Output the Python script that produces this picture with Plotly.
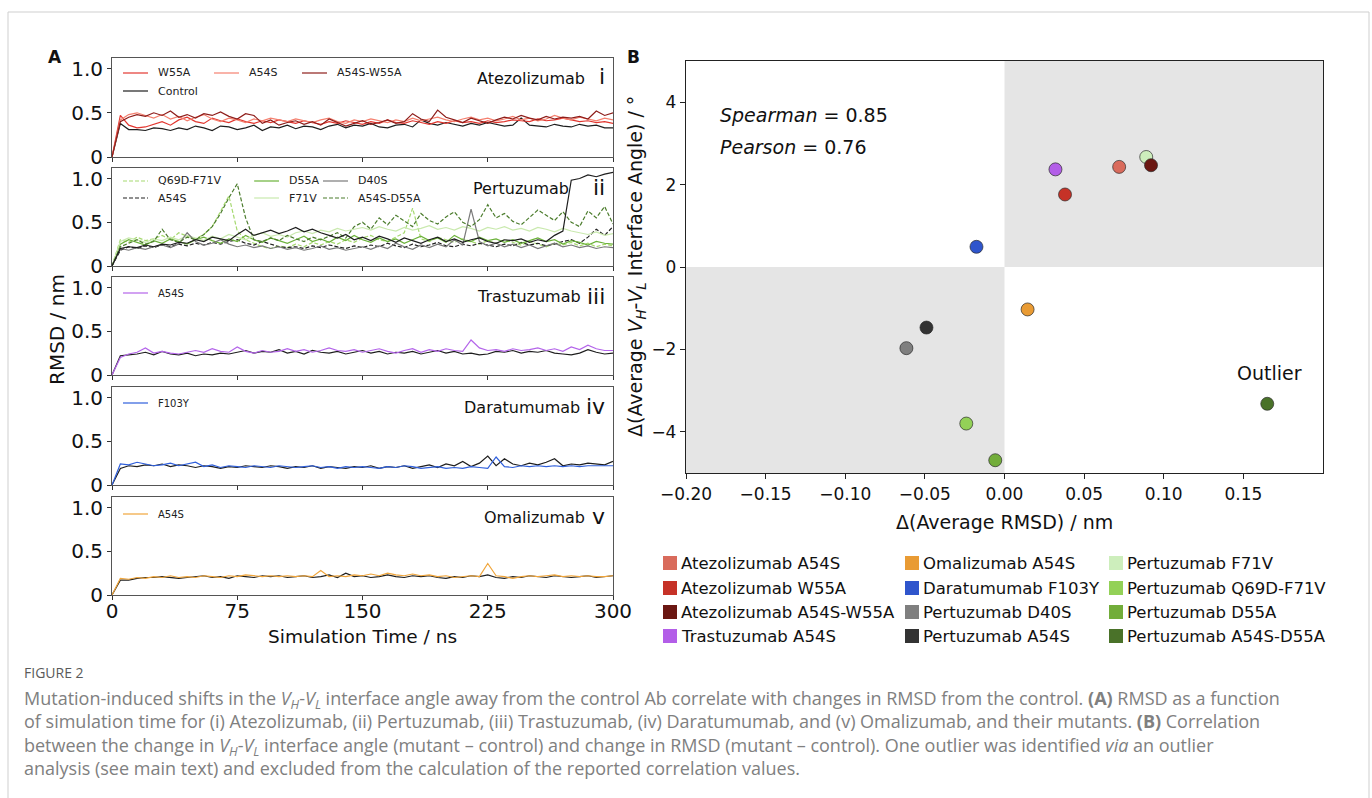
import plotly.graph_objects as go

W, H = 1372, 798


def px(x):
    return x / W


def py(y):
    return 1 - y / H


# ---------------- DATA ----------------
time_ns = list(range(0, 301, 5))

# Atezolizumab (i)
atz_control = [0, .38, .31, .31, .30, .33, .32, .30, .33, .31,
               .35, .33, .30, .35, .34, .31, .33, .36, .30, .34,
               .33, .36, .32, .35, .34, .31, .35, .37, .33, .36,
               .35, .38, .34, .33, .36, .37, .34, .42, .38, .36,
               .39, .37, .35, .38, .36, .39, .37, .35, .36, .44,
               .36, .35, .34, .37, .35, .34, .37, .35, .36, .33,
               .33]
atz_w55a = [0, .47, .36, .33, .34, .37, .40, .36, .42, .45,
            .40, .38, .44, .41, .39, .43, .40, .38, .41, .39,
            .42, .40, .38, .41, .39, .37, .40, .38, .41, .39,
            .37, .40, .38, .42, .39, .38, .41, .39, .37, .40,
            .38, .41, .39, .40, .38, .41, .39, .40, .42, .41,
            .40, .43, .41, .42, .44, .42, .40, .41, .39, .40,
            .38]
atz_a54s = [0, .42, .48, .50, .47, .44, .48, .43, .46, .41,
            .45, .48, .43, .40, .44, .42, .39, .43, .41, .44,
            .42, .40, .43, .41, .39, .42, .44, .40, .38, .42,
            .40, .43, .41, .39, .42, .40, .44, .41, .43, .45,
            .42, .40, .43, .45, .42, .44, .41, .43, .46, .42,
            .44, .41, .43, .47, .44, .42, .45, .43, .41, .44,
            .42]
atz_a54s_w55a = [0, .40, .45, .48, .46, .50, .47, .52, .45, .48,
                 .44, .49, .47, .51, .46, .43, .49, .47, .38, .42,
                 .36, .39, .41, .37, .40, .36, .43, .39, .35, .38,
                 .41, .37, .39, .42, .38, .40, .49, .43, .40, .53,
                 .45, .42, .39, .44, .41, .38, .42, .45, .43, .47,
                 .44, .42, .46, .43, .45, .44, .46, .43, .52, .47,
                 .50]

# Pertuzumab (ii)
ptz_control = [0, .20, .22, .21, .24, .22, .25, .24, .27, .26,
               .30, .28, .33, .31, .29, .36, .42, .35, .38, .41,
               .37, .40, .44, .39, .42, .38, .35, .32, .36, .30,
               .33, .29, .34, .31, .27, .32, .29, .26, .30, .33,
               .28, .31, .27, .30, .32, .28, .26, .30, .29, .31,
               .27, .30, .28, .35, .40, .98, 1.00, 1.04, 1.02, 1.05,
               1.07]
ptz_a54s = [0, .18, .22, .20, .23, .21, .24, .22, .25, .23,
            .26, .24, .27, .25, .28, .30, .26, .24, .28, .25,
            .22, .21, .22, .20, .23, .21, .24, .22, .20, .23,
            .21, .24, .22, .26, .23, .21, .25, .22, .24, .27,
            .23, .22, .25, .23, .26, .24, .22, .25, .23, .27,
            .24, .26, .23, .25, .28, .30, .26, .33, .42, .35,
            .45]
ptz_d40s = [0, .20, .18, .21, .19, .22, .24, .21, .25, .38,
            .28, .24, .26, .30, .25, .22, .24, .21, .23, .20,
            .22, .19, .21, .18, .20, .23, .19, .21, .18, .20,
            .22, .19, .23, .20, .26, .22, .19, .24, .21, .25,
            .22, .30, .24, .65, .28, .23, .26, .22, .25, .21,
            .24, .20, .23, .26, .22, .24, .21, .23, .20, .22,
            .21]
ptz_d55a = [0, .25, .30, .27, .24, .29, .26, .31, .28, .25,
            .30, .33, .29, .26, .31, .28, .35, .30, .27, .32,
            .29, .26, .30, .34, .28, .31, .27, .33, .29, .35,
            .30, .27, .32, .28, .31, .26, .30, .34, .29, .32,
            .27, .35, .30, .28, .33, .29, .31, .27, .30, .26,
            .29, .32, .28, .30, .25, .29, .27, .24, .28, .26,
            .25]
ptz_f71v = [0, .28, .32, .30, .27, .31, .29, .33, .30, .35,
            .32, .29, .34, .31, .36, .33, .30, .35, .38, .34,
            .36, .33, .38, .40, .37, .41, .39, .43, .40, .42,
            .44, .41, .45, .42, .40, .44, .41, .43, .46, .42,
            .44, .41, .45, .43, .40, .44, .42, .45, .41, .43,
            .40, .44, .42, .39, .43, .40, .38, .36, .39, .35,
            .37]
ptz_q69d_f71v = [0, .30, .27, .33, .29, .31, .35, .30, .38, .34,
                 .31, .36, .45, .62, .80, .40, .30, .26, .22, .20,
                 .23, .21, .25, .22, .27, .24, .28, .25, .30, .27,
                 .32, .35, .30, .28, .33, .38, .66, .31, .28, .33,
                 .30, .27, .31, .28, .25, .29, .26, .30, .27, .24,
                 .28, .25, .22, .26, .24, .27, .23, .26, .22, .25,
                 .23]
ptz_a54s_d55a = [0, .22, .26, .30, .25, .28, .42, .30, .27, .33,
                 .30, .36, .45, .60, .78, .94, .55, .30, .28, .32,
                 .29, .35, .31, .28, .33, .30, .34, .38, .32, .45,
                 .50, .42, .55, .47, .58, .51, .45, .60, .52, .48,
                 .56, .62, .50, .45, .53, .70, .55, .60, .51, .47,
                 .55, .64, .58, .52, .62, .50, .45, .63, .55, .68,
                 .48]

# Trastuzumab (iii)
tra_control = [0, .22, .23, .24, .26, .23, .27, .24, .23, .25,
               .22, .24, .23, .25, .24, .26, .28, .25, .27, .26,
               .29, .25, .27, .24, .28, .26, .25, .27, .24, .26,
               .28, .25, .27, .24, .26, .25, .27, .24, .26, .28,
               .25, .27, .24, .25, .23, .24, .27, .26, .28, .25,
               .27, .26, .28, .25, .24, .23, .25, .29, .26, .24,
               .25]
tra_a54s = [0, .20, .24, .26, .31, .25, .27, .25, .24, .26,
            .28, .26, .30, .27, .26, .32, .27, .25, .28, .26,
            .27, .30, .27, .29, .26, .28, .31, .28, .27, .29,
            .26, .28, .30, .27, .25, .28, .30, .26, .29, .27,
            .30, .28, .27, .40, .31, .28, .29, .27, .30, .28,
            .29, .31, .28, .30, .27, .32, .29, .34, .30, .28,
            .28]

# Daratumumab (iv)
dar_control = [0, .19, .22, .21, .23, .22, .24, .21, .23, .22,
               .20, .22, .21, .19, .21, .20, .22, .21, .20, .22,
               .21, .19, .21, .20, .22, .19, .21, .20, .19, .21,
               .20, .22, .19, .21, .20, .22, .19, .21, .23, .20,
               .24, .22, .27, .21, .25, .33, .22, .30, .24, .22,
               .25, .23, .26, .30, .22, .24, .23, .25, .24, .23,
               .27]
dar_f103y = [0, .24, .23, .26, .24, .22, .23, .25, .22, .24,
             .26, .21, .23, .20, .22, .21, .20, .22, .21, .20,
             .22, .21, .20, .21, .22, .20, .21, .19, .21, .20,
             .21, .20, .19, .21, .20, .22, .21, .19, .20, .21,
             .19, .20, .19, .21, .20, .19, .32, .21, .20, .22,
             .21, .22, .21, .22, .21, .22, .21, .22, .22, .22,
             .22]

# Omalizumab (v)
oma_control = [0, .17, .17, .19, .20, .20, .21, .20, .19, .20,
               .21, .22, .20, .21, .19, .22, .21, .20, .22, .21,
               .22, .20, .21, .22, .20, .21, .23, .20, .25, .21,
               .22, .20, .21, .23, .21, .20, .22, .21, .22, .20,
               .19, .21, .20, .22, .21, .23, .20, .19, .21, .20,
               .22, .21, .20, .22, .21, .20, .21, .22, .20, .21,
               .22]
oma_a54s = [0, .19, .18, .20, .19, .21, .20, .22, .20, .21,
            .20, .22, .21, .20, .22, .21, .23, .22, .21, .22,
            .21, .22, .21, .22, .21, .28, .21, .22, .21, .23,
            .22, .24, .22, .25, .23, .22, .24, .22, .23, .21,
            .22, .20, .21, .22, .21, .36, .22, .21, .19, .21,
            .22, .21, .22, .23, .21, .22, .21, .22, .21, .21,
            .22]

# Panel B scatter (legend / column-major order)
mutant_names = ["Atezolizumab A54S", "Atezolizumab W55A", "Atezolizumab A54S-W55A", "Trastuzumab A54S",
                "Omalizumab A54S", "Daratumumab F103Y", "Pertuzumab D40S", "Pertuzumab A54S",
                "Pertuzumab F71V", "Pertuzumab Q69D-F71V", "Pertuzumab D55A", "Pertuzumab A54S-D55A"]
delta_rmsd = [0.072, 0.038, 0.092, 0.032,
              0.0145, -0.0176, -0.0616, -0.049,
              0.089, -0.024, -0.0058, 0.165]
delta_angle = [2.43, 1.76, 2.47, 2.37,
               -1.03, 0.49, -1.97, -1.47,
               2.67, -3.80, -4.69, -3.32]
mutant_colors = ["#d96b5c", "#c63227", "#6b1712", "#b35ee8",
                 "#e99b34", "#2f55cc", "#7f7f7f", "#333333",
                 "#cdeebc", "#93d157", "#72ad3a", "#4a7229"]

x_ticks_A = [0, 75, 150, 225, 300]
y_ticks_A = [0, 0.5, 1.0]
y_ticklabels_A = ["0", "0.5", "1.0"]
x_ticks_B = [-0.20, -0.15, -0.10, -0.05, 0.00, 0.05, 0.10, 0.15]
x_ticklabels_B = ["\u22120.20", "\u22120.15", "\u22120.10", "\u22120.05", "0.00", "0.05", "0.10", "0.15"]
y_ticks_B = [-4, -2, 0, 2, 4]
y_ticklabels_B = ["\u22124", "\u22122", "0", "2", "4"]

# ---------------- STYLE / LAYOUT ----------------
FONT = "DejaVu Sans"
DASH = "4px,2px"
C_CTRL = "#1e1e1e"

panels = [
    dict(name="Atezolizumab", num="i", name_x=587, top=58, bottom=157, leg_rows=[73, 91], leg_font=11,
         series=[("Control", atz_control, C_CTRL, "solid", (123, 1)),
                 ("W55A", atz_w55a, "#e2362f", "solid", (123, 0)),
                 ("A54S", atz_a54s, "#f5806f", "solid", (214, 0)),
                 ("A54S-W55A", atz_a54s_w55a, "#8e1d1a", "solid", (302, 0))]),
    dict(name="Pertuzumab", num="ii", name_x=571, top=168, bottom=266, leg_rows=[181, 198], leg_font=11,
         series=[("Q69D-F71V", ptz_q69d_f71v, "#a6d970", DASH, (123, 0)),
                 ("A54S", ptz_a54s, "#222222", DASH, (123, 1)),
                 ("D55A", ptz_d55a, "#6cb23a", "solid", (254, 0)),
                 ("F71V", ptz_f71v, "#c9e9ae", "solid", (254, 1)),
                 ("D40S", ptz_d40s, "#7a7a7a", "solid", (323, 0)),
                 ("A54S-D55A", ptz_a54s_d55a, "#4b7c2c", DASH, (323, 1)),
                 ("Control", ptz_control, C_CTRL, "solid", None)]),
    dict(name="Trastuzumab", num="iii", name_x=583, top=277, bottom=375, leg_rows=[293], leg_font=10,
         series=[("Control", tra_control, C_CTRL, "solid", None),
                 ("A54S", tra_a54s, "#b465ea", "solid", (123, 0))]),
    dict(name="Daratumumab", num="iv", name_x=582, top=387, bottom=485, leg_rows=[403], leg_font=10,
         series=[("Control", dar_control, C_CTRL, "solid", None),
                 ("F103Y", dar_f103y, "#3060dc", "solid", (123, 0))]),
    dict(name="Omalizumab", num="v", name_x=587, top=497, bottom=595, leg_rows=[514], leg_font=10,
         series=[("Control", oma_control, C_CTRL, "solid", None),
                 ("A54S", oma_a54s, "#f0a53a", "solid", (123, 0))]),
]

fig = go.Figure()
shapes = []
annotations = []
layout_axes = {}

A_X0, A_X1 = 112, 613
for k, p in enumerate(panels, start=1):
    xa, ya = f"x{k}", f"y{k}"
    for (lab, vals, col, dash, leg) in p["series"]:
        fig.add_trace(go.Scatter(x=time_ns, y=vals, mode="lines", xaxis=xa, yaxis=ya,
                                 line=dict(color=col, width=1.2, dash=dash),
                                 showlegend=False, hoverinfo="skip"))
    # manual legend (line sample + label)
    for (lab, vals, col, dash, leg) in p["series"]:
        if leg is None:
            continue
        lx, row = leg
        row_y = p["leg_rows"][row]
        shapes.append(dict(type="line", xref="paper", yref="paper",
                           x0=px(lx), x1=px(lx + 25), y0=py(row_y), y1=py(row_y),
                           line=dict(color=col, width=1.2, dash=dash)))
        annotations.append(dict(text=lab, xref="paper", yref="paper", x=px(lx + 33), y=py(row_y),
                                xanchor="left", yanchor="middle", showarrow=False,
                                font=dict(family=FONT, size=p["leg_font"], color="#222")))
    # title inside panel
    ty = p["top"] + 20
    annotations.append(dict(text=p["name"], xref="paper", yref="paper", x=px(p["name_x"]), y=py(ty),
                            xanchor="right", yanchor="middle", showarrow=False,
                            font=dict(family=FONT, size=16, color="#111")))
    annotations.append(dict(text=p["num"], xref="paper", yref="paper", x=px(607), y=py(ty - 1),
                            xanchor="right", yanchor="middle", showarrow=False,
                            font=dict(family=FONT, size=22, color="#111")))
    sfx = "" if k == 1 else str(k)
    layout_axes["xaxis" + sfx] = dict(domain=[px(A_X0), px(A_X1)], range=[0, 300], anchor=ya,
                                      showline=True, mirror=True, linecolor="#555", linewidth=1,
                                      ticks="outside", ticklen=4, tickcolor="#333",
                                      tickvals=x_ticks_A, showticklabels=(k == 5),
                                      ticklabelstandoff=-6,
                                      tickfont=dict(family=FONT, size=20, color="#111"),
                                      showgrid=False, zeroline=False, fixedrange=True, automargin=False)
    layout_axes["yaxis" + sfx] = dict(domain=[py(p["bottom"]), py(p["top"])], range=[0, 1.12], anchor=xa,
                                      showline=True, mirror=True, linecolor="#555", linewidth=1,
                                      ticks="outside", ticklen=4, tickcolor="#333",
                                      tickvals=y_ticks_A, ticktext=y_ticklabels_A,
                                      tickfont=dict(family=FONT, size=20, color="#111"),
                                      showgrid=False, zeroline=False, fixedrange=True, automargin=False)

# ---------------- Panel B ----------------
B_X0, B_X1, B_Y0, B_Y1 = 686, 1323, 61, 473
draw_order = list(range(len(mutant_names)))[::-1]
for i in draw_order:
    fig.add_trace(go.Scatter(x=[delta_rmsd[i]], y=[delta_angle[i]], mode="markers",
                             xaxis="x6", yaxis="y6", name=mutant_names[i],
                             marker=dict(size=13, color=mutant_colors[i],
                                         line=dict(color="rgba(40,40,40,0.85)", width=0.8)),
                             showlegend=False, hoverinfo="skip"))

shapes.append(dict(type="rect", xref="x6", yref="y6", x0=0, x1=0.2, y0=0, y1=5,
                   fillcolor="#e5e5e5", line=dict(width=0), layer="below"))
shapes.append(dict(type="rect", xref="x6", yref="y6", x0=-0.2, x1=0, y0=-5, y1=0,
                   fillcolor="#e5e5e5", line=dict(width=0), layer="below"))

layout_axes["xaxis6"] = dict(domain=[px(B_X0), px(B_X1)], range=[-0.2, 0.2], anchor="y6",
                             showline=True, mirror=True, linecolor="#222", linewidth=1.3,
                             ticks="outside", ticklen=5, tickcolor="#222",
                             tickvals=x_ticks_B, ticktext=x_ticklabels_B,
                             tickfont=dict(family=FONT, size=17, color="#111"),
                             showgrid=False, zeroline=False, fixedrange=True, automargin=False)
layout_axes["yaxis6"] = dict(domain=[py(B_Y1), py(B_Y0)], range=[-5, 5], anchor="x6",
                             showline=True, mirror=True, linecolor="#222", linewidth=1.3,
                             ticks="outside", ticklen=5, tickcolor="#222",
                             tickvals=y_ticks_B, ticktext=y_ticklabels_B,
                             tickfont=dict(family=FONT, size=17, color="#111"),
                             showgrid=False, zeroline=False, fixedrange=True, automargin=False)

# Panel B legend (3 columns x 4 rows, column-major)
col_sq = [663, 905, 1109]
row_y = [563, 588, 612, 636]
for i, (nm, colr) in enumerate(zip(mutant_names, mutant_colors)):
    c, r = divmod(i, 4)
    shapes.append(dict(type="rect", xref="paper", yref="paper",
                       x0=px(col_sq[c]), x1=px(col_sq[c] + 14), y0=py(row_y[r] + 7), y1=py(row_y[r] - 7),
                       fillcolor=colr, line=dict(width=0)))
    annotations.append(dict(text=nm, xref="paper", yref="paper", x=px(col_sq[c] + 16), y=py(row_y[r]),
                            xanchor="left", yanchor="middle", showarrow=False,
                            font=dict(family=FONT, size=16.5, color="#111")))


def ann(text, x, y, size, xanchor="center", angle=0, color="#111", family=FONT, yanchor="middle", align="center"):
    annotations.append(dict(text=text, xref="paper", yref="paper", x=px(x), y=py(y),
                            xanchor=xanchor, yanchor=yanchor, showarrow=False, textangle=angle, align=align,
                            font=dict(family=family, size=size, color=color)))


ann("<b>A</b>", 55, 57, 17)
ann("<b>B</b>", 633, 57, 17)
ann("RMSD / nm", 57, 330, 20, angle=-90)
ann("Simulation Time / ns", 362, 636, 18.5)
ann("\u0394(Average <i>V<sub>H</sub></i>-<i>V<sub>L</sub></i> Interface Angle) / \u00b0", 636, 267, 19, angle=-90)
ann("\u0394(Average RMSD) / nm", 1004, 522, 19)
ann("<i>Spearman</i> = 0.85", 718, 115, 19, xanchor="left")
ann("<i>Pearson</i> = 0.76", 718, 147, 19, xanchor="left")
ann("Outlier", 1269, 373, 19)

CAP_FONT = "Open Sans"
CAP_COL = "#808080"
ann("FIGURE 2", 22, 672, 14, xanchor="left", color="#5a5a5a", family=CAP_FONT)
cap_lines = [
    "Mutation-induced shifts in the <i>V<sub>H</sub></i>-<i>V<sub>L</sub></i> interface angle away from the control Ab correlate with changes in RMSD from the control. <b>(A)</b> RMSD as a function",
    "of simulation time for (i) Atezolizumab, (ii) Pertuzumab, (iii) Trastuzumab, (iv) Daratumumab, and (v) Omalizumab, and their mutants. <b>(B)</b> Correlation",
    "between the change in <i>V<sub>H</sub></i>-<i>V<sub>L</sub></i> interface angle (mutant \u2013 control) and change in RMSD (mutant \u2013 control). One outlier was identified <i>via</i> an outlier",
    "analysis (see main text) and excluded from the calculation of the reported correlation values.",
]
ann("<br>".join(cap_lines), 22, 684, 18, xanchor="left", yanchor="top", align="left",
    color=CAP_COL, family=CAP_FONT)

# Outer frame
shapes.append(dict(type="rect", xref="paper", yref="paper", x0=px(8), x1=px(1369), y0=-0.01, y1=py(12),
                   line=dict(color="#cfcfcf", width=1), fillcolor="rgba(0,0,0,0)", layer="below"))

fig.update_layout(width=W, height=H, autosize=False, margin=dict(l=0, r=0, t=0, b=0, pad=0, autoexpand=False),
                  paper_bgcolor="white", plot_bgcolor="white", showlegend=False,
                  font=dict(family=FONT), shapes=shapes, annotations=annotations,
                  **layout_axes)

fig.write_html("out.html")
